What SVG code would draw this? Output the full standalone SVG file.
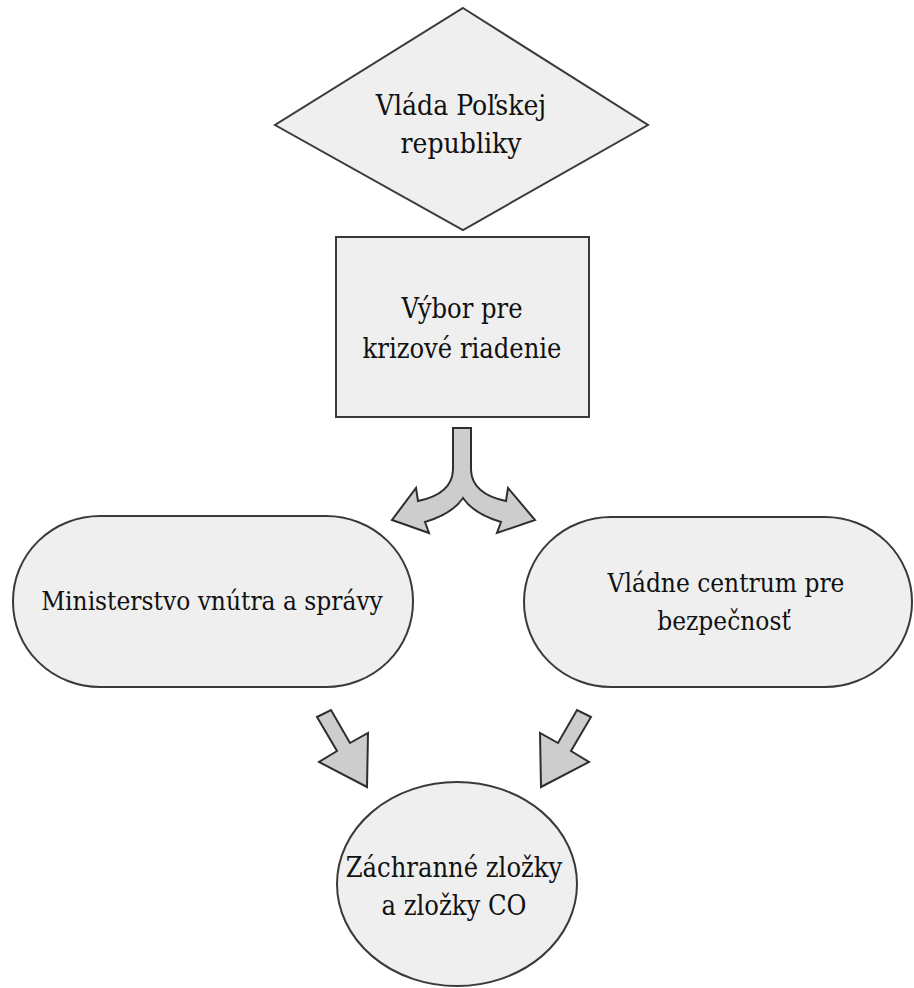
<svg xmlns="http://www.w3.org/2000/svg" width="914" height="988" viewBox="0 0 914 988">
<style>
.node{fill:#efefef;stroke:#3a3a3a;stroke-width:2}
.arrow{fill:#cdcdcd;stroke:#2e2e2e;stroke-width:2;stroke-linejoin:miter}
.lbl{font-family:'DejaVu Serif Condensed','DejaVu Serif','Liberation Serif',serif;font-stretch:condensed;font-size:26px;fill:#111;text-anchor:middle}
</style>
<rect width="914" height="988" fill="#ffffff"/>
<g id="connectors">
<path class="arrow" d="M453 428 L471 428 L471 470 Q472 494 506 501 L508 488 L535 520 L497 533 L501 522 Q474 514 463 498 Q452 514 425 522 L429 533 L392 520 L416 488 L418 501 Q452 494 453 470 Z"/>
<polygon class="arrow" points="317,717 331,710 350,743 368,733 367,787 319,762 337,751"/>
<polygon class="arrow" points="591,717 577,710 558,743 540,733 541,787 589,762 571,751"/>
</g>
<g id="n1">
<polygon class="node" points="463,8 648,125 463,230 275,125"/>
<text class="lbl" x="461" y="115" style="font-size:28px">Vláda Poľskej</text>
<text class="lbl" x="461" y="153" style="font-size:28px">republiky</text>
</g>
<g id="n2">
<rect class="node" x="336" y="237" width="253" height="180"/>
<text class="lbl" x="462" y="318" style="font-size:27px">Výbor pre</text>
<text class="lbl" x="462" y="358" style="font-size:27px">krizové riadenie</text>
</g>
<g id="n3">
<rect class="node" x="13" y="516" width="400" height="171" rx="87" ry="85"/>
<text class="lbl" x="212" y="610">Ministerstvo vnútra a správy</text>
</g>
<g id="n4">
<rect class="node" x="524" y="517" width="388" height="170" rx="87" ry="85"/>
<text class="lbl" x="726" y="592">Vládne centrum pre</text>
<text class="lbl" x="724" y="630">bezpečnosť</text>
</g>
<g id="n5">
<ellipse class="node" cx="457" cy="884" rx="120" ry="102"/>
<text class="lbl" x="454" y="877" style="font-size:27px">Záchranné zložky</text>
<text class="lbl" x="454" y="915" style="font-size:27px">a zložky CO</text>
</g>
</svg>
